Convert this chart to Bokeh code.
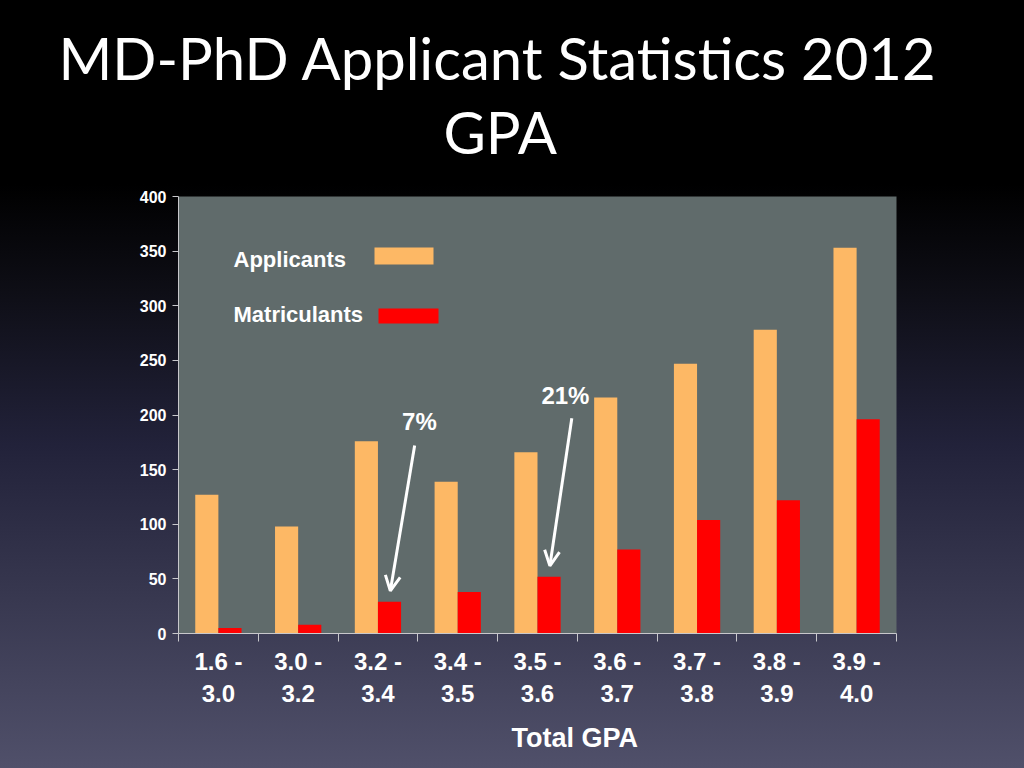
from bokeh.plotting import figure
from bokeh.models import (Range1d, LinearAxis, FixedTicker, Label, BoxAnnotation, Arrow,
                          OpenHead, ColumnDataSource, Title)
from bokeh.transform import dodge
from bokeh.embed import file_html
from bokeh.resources import INLINE

# ---------------- data ----------------
gpa_ranges = ["1.6 - 3.0", "3.0 - 3.2", "3.2 - 3.4", "3.4 - 3.5", "3.5 - 3.6",
              "3.6 - 3.7", "3.7 - 3.8", "3.8 - 3.9", "3.9 - 4.0"]
applicants = [127, 98, 176, 139, 166, 216, 247, 278, 353]
matriculants = [5, 8, 29, 38, 52, 77, 104, 122, 196]
y_ticks = [0, 50, 100, 150, 200, 250, 300, 350, 400]
series_names = ["Applicants", "Matriculants"]
callouts = [("7%", 2), ("21%", 4)]   # text, index of the GPA range pointed at

title_line1 = "MD-PhD Applicant Statistics 2012"
title_line2 = "GPA"
x_title = "Total GPA"

# ---------------- style ----------------
ORANGE = "#FDB865"
RED = "#FF0000"
PLOT_BG = "#606b6b"
AXIS_COL = "#c8c8cc"
FONT = "Liberation Sans"

n = len(gpa_ranges)
centers = [i + 0.5 for i in range(n)]   # category slots on a 0..n axis
src = ColumnDataSource(dict(x=centers, gpa=gpa_ranges,
                            applicants=applicants, matriculants=matriculants))

p = figure(x_range=Range1d(0, n), y_range=Range1d(0, 400),
           width=1024, height=768, output_backend="svg", toolbar_location=None,
           x_axis_location=None, y_axis_location="left",
           min_border_left=178, min_border_right=128, min_border_top=196, min_border_bottom=135,
           background_fill_color=PLOT_BG, border_fill_color=None, outline_line_color=None)

p.styles = {"background": "linear-gradient(to bottom, #000000 0%, #000000 24%, #0e0e16 38%, "
                          "#22223a 58%, #383850 78%, #50506a 100%)"}

bar_w = 0.29
p.vbar(x=dodge("x", -bar_w / 2), top="applicants", width=bar_w,
       source=src, fill_color=ORANGE, line_color=None)
p.vbar(x=dodge("x", bar_w / 2), top="matriculants", width=bar_w,
       source=src, fill_color=RED, line_color=None)

p.xgrid.visible = False
p.ygrid.visible = False

# y axis
ya = p.yaxis[0]
ya.ticker = FixedTicker(ticks=y_ticks)
ya.axis_line_color = AXIS_COL
ya.axis_line_width = 1
ya.major_tick_line_color = AXIS_COL
ya.major_tick_in = 0
ya.major_tick_out = 6
ya.minor_tick_line_color = None
ya.major_label_text_color = "white"
ya.major_label_text_font = FONT
ya.major_label_text_font_style = "bold"
ya.major_label_text_font_size = "16px"
ya.major_label_standoff = 6

# x axis: labels at slot centres, boundary ticks drawn as minor ticks
cat_axis = LinearAxis(ticker=FixedTicker(ticks=centers, minor_ticks=list(range(n + 1))),
                      axis_line_color=AXIS_COL, major_tick_line_color=None,
                      major_tick_in=0, major_tick_out=8,
                      minor_tick_line_color=AXIS_COL, minor_tick_in=0, minor_tick_out=8,
                      major_label_overrides={c: g.replace(" - ", " -\n")
                                             for c, g in zip(centers, gpa_ranges)},
                      major_label_text_color="white", major_label_text_font=FONT,
                      major_label_text_font_style="bold", major_label_text_font_size="24px",
                      major_label_standoff=6)
p.add_layout(cat_axis, "below")

# x axis title (as a title below the axis)
p.add_layout(Title(text=x_title, align="left", offset=333, standoff=22,
                   text_color="white", text_font=FONT, text_font_style="bold",
                   text_font_size="27px"), "below")

# chart titles (first added sits closest to the frame)
p.add_layout(Title(text=title_line2, align="left", offset=265, standoff=62,
                   text_color="white", text_font="Lato", text_font_style="normal",
                   text_font_size="58px"), "above")
p.add_layout(Title(text=title_line1, align="left", offset=-120, standoff=-56,
                   text_color="white", text_font="Lato", text_font_style="normal",
                   text_font_size="58px"), "above")

# legend (text left, swatch right)
p.add_layout(Label(x=55, y=374, x_units="screen", y_units="screen", text=series_names[0],
                   text_color="white", text_font=FONT, text_font_style="bold",
                   text_font_size="22px", text_align="left", text_baseline="middle"))
p.add_layout(Label(x=55, y=319, x_units="screen", y_units="screen", text=series_names[1],
                   text_color="white", text_font=FONT, text_font_style="bold",
                   text_font_size="22px", text_align="left", text_baseline="middle"))
p.add_layout(BoxAnnotation(left=196, right=255, bottom=369, top=386,
                           left_units="screen", right_units="screen",
                           bottom_units="screen", top_units="screen",
                           fill_color=ORANGE, fill_alpha=1, line_color=None))
p.add_layout(BoxAnnotation(left=200, right=260, bottom=310, top=325,
                           left_units="screen", right_units="screen",
                           bottom_units="screen", top_units="screen",
                           fill_color=RED, fill_alpha=1, line_color=None))

# callouts with arrows
callout_text_pos = [(3.02, 194), (4.85, 218)]
callout_arrow_start = [(2.96, 172), (4.93, 197)]
for (txt, idx), (tx, ty), (sx, sy) in zip(callouts, callout_text_pos, callout_arrow_start):
    p.add_layout(Label(x=tx, y=ty, text=txt, text_color="white", text_font=FONT,
                       text_font_style="bold", text_font_size="24px",
                       text_align="center", text_baseline="middle"))
    p.add_layout(Arrow(x_start=sx, y_start=sy,
                       x_end=centers[idx] + bar_w / 2 + 0.01, y_end=matriculants[idx] + 10,
                       line_color="white", line_width=3,
                       end=OpenHead(line_color="white", line_width=3, size=15)))

open("out.html", "w").write(file_html(p, INLINE))
